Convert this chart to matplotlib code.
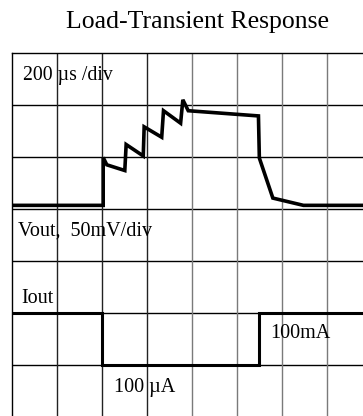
import matplotlib
matplotlib.use("Agg")
import matplotlib.pyplot as plt

# scope screen is 8 x 7 divisions, values below are in divisions
vout_t = [0.0, 2.02, 2.02, 2.10, 2.50, 2.53, 2.91, 2.93, 3.32, 3.36, 3.74, 3.79,
          3.91, 5.47, 5.49, 5.79, 6.47, 8.0]
vout_v = [4.07, 4.07, 4.99, 4.85, 4.74, 5.24, 5.02, 5.58, 5.38, 5.89, 5.65, 6.10,
          5.89, 5.79, 4.98, 4.21, 4.07, 4.07]

iout_t = [0.0, 1.99, 1.99, 5.49, 5.49, 8.0]
iout_v = [2.0, 2.0, 1.0, 1.0, 2.0, 2.0]

n_xdiv = 8
n_ydiv = 7

plt.rcParams["font.family"] = ["Liberation Serif", "DejaVu Serif"]

W, H = 363, 416
fig = plt.figure(figsize=(W / 100, H / 100), dpi=100)
ax = fig.add_axes([12.3 / W, -1 / H, 360 / W, 364 / H])
ax.set_xlim(0, n_xdiv)
ax.set_ylim(0, n_ydiv)
ax.set_xticks([])
ax.set_yticks([])
for side in ("bottom", "right"):
    ax.spines[side].set_visible(False)
for side in ("top", "left"):
    ax.spines[side].set_linewidth(1.0)
    ax.spines[side].set_color("black")

# graticule
for k in range(1, n_ydiv):
    ax.axhline(k, color="black", lw=1.0, zorder=1)
for k in range(1, n_xdiv):
    ax.axvline(k, color="#222222" if k <= 3 else "#7a7a7a", lw=1.0, zorder=1)

ax.plot(vout_t, vout_v, color="black", lw=2.6, solid_joinstyle="miter", zorder=3)
ax.plot(iout_t, iout_v, color="black", lw=2.2, solid_joinstyle="miter", zorder=3)


def px(x, y):
    return (x - 12.3) / 45, (417 - y) / 52


fig.text(198 / W, 1 - 28 / H, "Load-Transient Response", fontsize=18.5,
         ha="center", va="baseline")
ax.text(*px(23, 80), "200 µs /div", fontsize=14.2, va="baseline")
ax.text(*px(18.5, 236), "Vout,  50mV/div", fontsize=14.5, va="baseline")
ax.text(*px(21.7, 303), "Iout", fontsize=14.5, va="baseline")
ax.text(*px(270, 338.5), "100mA", fontsize=14.5, va="baseline")
ax.text(*px(114.3, 392), "100 µA", fontsize=14.5, va="baseline")

fig.savefig("out.png", dpi=100)
